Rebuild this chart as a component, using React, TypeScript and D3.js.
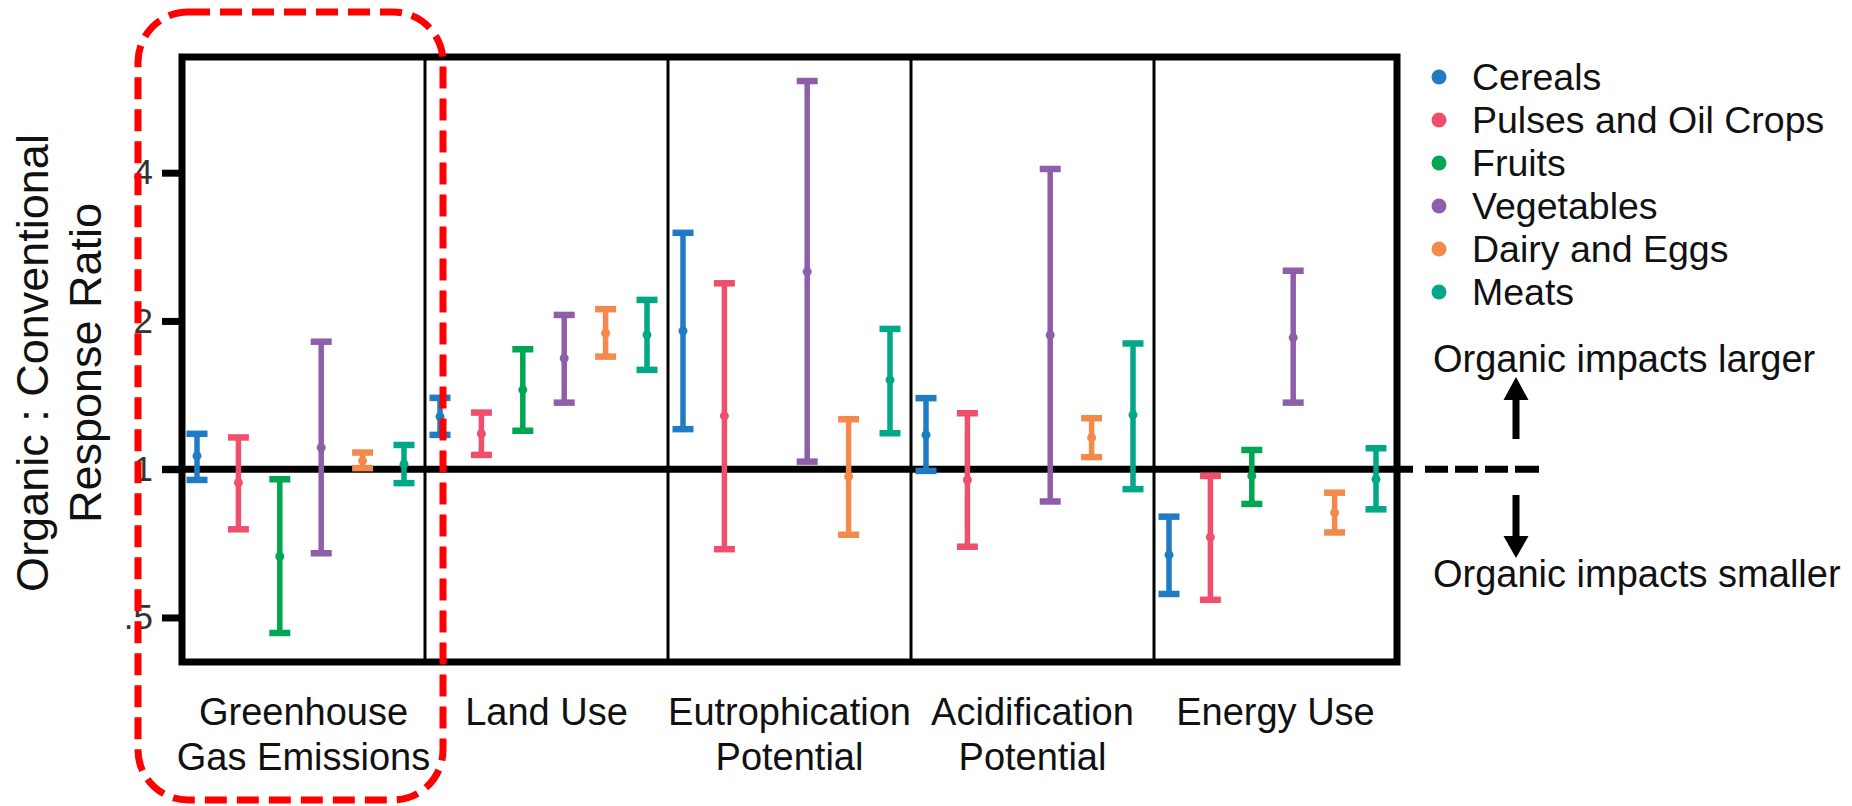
import React, { useEffect, useRef } from 'react';
import * as d3 from 'd3';

type Range3 = [number, number, number] | null;

const impacts = ['Greenhouse Gas Emissions', 'Land Use', 'Eutrophication Potential', 'Acidification Potential', 'Energy Use'];
const impactLines = [['Greenhouse', 'Gas Emissions'], ['Land Use'], ['Eutrophication', 'Potential'], ['Acidification', 'Potential'], ['Energy Use']];
const foodGroups = ['Cereals', 'Pulses and Oil Crops', 'Fruits', 'Vegetables', 'Dairy and Eggs', 'Meats'];
const groupColors = ['#1f7cc4', '#ef4f6c', '#00a651', '#8e5ea9', '#f38a4c', '#00a887'];

// [lower, mean, upper] for each impact category
const cereals: Range3[] = [[0.951, 1.064, 1.18], [1.174, 1.279, 1.396], [1.206, 1.909, 3.02], [0.992, 1.174, 1.394], [0.558, 0.67, 0.801]];
const pulses: Range3[] = [[0.755, 0.939, 1.16], [1.069, 1.18, 1.303], [0.688, 1.283, 2.385], [0.696, 0.951, 1.299], [0.543, 0.728, 0.969]];
const fruits: Range3[] = [[0.465, 0.665, 0.954], [1.197, 1.449, 1.752], null, null, [0.85, 0.969, 1.094]];
const vegetables: Range3[] = [[0.675, 1.106, 1.815], [1.365, 1.68, 2.057], [1.036, 2.518, 6.14], [0.86, 1.873, 4.07], [1.365, 1.85, 2.529]];
const dairy: Range3[] = [[1.005, 1.04, 1.081], [1.693, 1.888, 2.113], [0.736, 0.966, 1.263], [1.058, 1.159, 1.269], [0.744, 0.816, 0.896]];
const meats: Range3[] = [[0.937, 1.024, 1.12], [1.591, 1.874, 2.207], [1.183, 1.518, 1.927], [0.911, 1.289, 1.8], [0.829, 0.954, 1.103]];
const series = [cereals, pulses, fruits, vegetables, dairy, meats];

const tickValues = [0.5, 1, 2, 4];
const tickLabels = ['.5', '1', '2', '4'];
const yDomain = [0.406, 6.87];

const W = 1852;
const H = 806;
const left = 182;
const right = 1397;
const top = 57;
const bottom = 662;
const font = '"Liberation Sans", Arial, Helvetica, sans-serif';

const App: React.FC = () => {
    const svgRef = useRef<SVGSVGElement | null>(null);

    useEffect(() => {
        if (!svgRef.current) return;
        const svg = d3.select(svgRef.current);
        svg.selectAll('*').remove();

        const x = d3.scaleBand<string>().domain(impacts).range([left, right]);
        const inner = d3.scalePoint<string>().domain(foodGroups).range([15, 222]);
        const y = d3.scaleLog().base(2).domain(yDomain).range([bottom, top]);

        // panel dividers
        svg.selectAll('line.divider')
            .data(impacts.slice(1))
            .join('line')
            .attr('class', 'divider')
            .attr('x1', (d) => x(d) as number)
            .attr('x2', (d) => x(d) as number)
            .attr('y1', top)
            .attr('y2', bottom)
            .attr('stroke', '#000')
            .attr('stroke-width', 3);

        // y axis
        const axis = d3.axisLeft(y)
            .tickValues(tickValues)
            .tickFormat((_d, i) => tickLabels[i])
            .tickSize(20)
            .tickPadding(9);
        const gy = svg.append('g').attr('transform', `translate(${left},0)`).call(axis as any);
        gy.select('.domain').remove();
        gy.selectAll('line').attr('stroke', '#000').attr('stroke-width', 7);
        gy.selectAll('text')
            .attr('font-size', 35)
            .attr('font-family', font)
            .attr('fill', '#333');

        // reference line at ratio 1
        svg.append('line')
            .attr('x1', left - 20).attr('x2', right)
            .attr('y1', y(1)).attr('y2', y(1))
            .attr('stroke', '#000').attr('stroke-width', 7);
        svg.append('line')
            .attr('x1', right - 3).attr('x2', 1539)
            .attr('y1', y(1)).attr('y2', y(1))
            .attr('stroke', '#000').attr('stroke-width', 7)
            .attr('stroke-dasharray', '19 12 23 7 23 7 23 7 24');

        // frame
        svg.append('rect')
            .attr('x', left).attr('y', top)
            .attr('width', right - left).attr('height', bottom - top)
            .attr('fill', 'none').attr('stroke', '#000').attr('stroke-width', 7);

        // error bars
        series.forEach((rows, gi) => {
            const color = groupColors[gi];
            const g = svg.append('g');
            rows.forEach((r, ii) => {
                if (!r) return;
                const cx = (x(impacts[ii]) as number) + (inner(foodGroups[gi]) as number);
                g.append('line')
                    .attr('x1', cx).attr('x2', cx)
                    .attr('y1', y(r[0])).attr('y2', y(r[2]))
                    .attr('stroke', color).attr('stroke-width', 5.5);
                [r[0], r[2]].forEach((v) => {
                    g.append('line')
                        .attr('x1', cx - 10.5).attr('x2', cx + 10.5)
                        .attr('y1', y(v)).attr('y2', y(v))
                        .attr('stroke', color).attr('stroke-width', 6.5);
                });
                g.append('circle')
                    .attr('cx', cx).attr('cy', y(r[1])).attr('r', 4.5)
                    .attr('fill', color);
            });
        });

        // category labels
        impactLines.forEach((lines, ii) => {
            const cx = (x(impacts[ii]) as number) + x.bandwidth() / 2;
            lines.forEach((t, li) => {
                svg.append('text')
                    .attr('x', cx).attr('y', 725 + li * 45)
                    .attr('text-anchor', 'middle')
                    .attr('font-family', font).attr('font-size', 38)
                    .attr('fill', '#111')
                    .text(t);
            });
        });

        // y axis title
        const title = svg.append('g').attr('transform', 'translate(0,363) rotate(-90)');
        ['Organic : Conventional', 'Response Ratio'].forEach((t, i) => {
            title.append('text')
                .attr('x', 0).attr('y', 32 + i * 53)
                .attr('dominant-baseline', 'central')
                .attr('text-anchor', 'middle')
                .attr('font-family', font).attr('font-size', 45)
                .attr('fill', '#111')
                .text(t);
        });

        // legend
        const legend = svg.append('g');
        foodGroups.forEach((name, i) => {
            const ly = 77 + i * 43;
            legend.append('circle')
                .attr('cx', 1439).attr('cy', ly).attr('r', 7.5)
                .attr('fill', groupColors[i]);
            legend.append('text')
                .attr('x', 1472).attr('y', ly)
                .attr('dominant-baseline', 'central')
                .attr('font-family', font).attr('font-size', 37.5)
                .attr('fill', '#111')
                .text(name);
        });

        // direction notes
        const ax = 1516;
        svg.append('text')
            .attr('x', 1433).attr('y', 372)
            .attr('font-family', font).attr('font-size', 38).attr('fill', '#111')
            .text('Organic impacts larger');
        svg.append('text')
            .attr('x', 1433).attr('y', 587)
            .attr('font-family', font).attr('font-size', 38).attr('fill', '#111')
            .text('Organic impacts smaller');
        svg.append('line')
            .attr('x1', ax).attr('x2', ax).attr('y1', 439).attr('y2', 396)
            .attr('stroke', '#000').attr('stroke-width', 7);
        svg.append('path')
            .attr('d', `M${ax},377 L${ax - 12.5},400 L${ax + 12.5},400 Z`)
            .attr('fill', '#000');
        svg.append('line')
            .attr('x1', ax).attr('x2', ax).attr('y1', 495).attr('y2', 540)
            .attr('stroke', '#000').attr('stroke-width', 7);
        svg.append('path')
            .attr('d', `M${ax},558 L${ax - 12.5},536 L${ax + 12.5},536 Z`)
            .attr('fill', '#000');

        // highlight box
        svg.append('rect')
            .attr('x', 138).attr('y', 12)
            .attr('width', 305).attr('height', 788)
            .attr('rx', 50).attr('ry', 50)
            .attr('fill', 'none')
            .attr('stroke', '#ff0000').attr('stroke-width', 7)
            .attr('stroke-dasharray', '22 10');
    }, []);

    return (
        <div style={{ position: 'absolute', left: 0, top: 0 }}>
            <svg ref={svgRef} width={W} height={H} style={{ display: 'block', background: '#fff' }}></svg>
        </div>
    );
};

export default App;
